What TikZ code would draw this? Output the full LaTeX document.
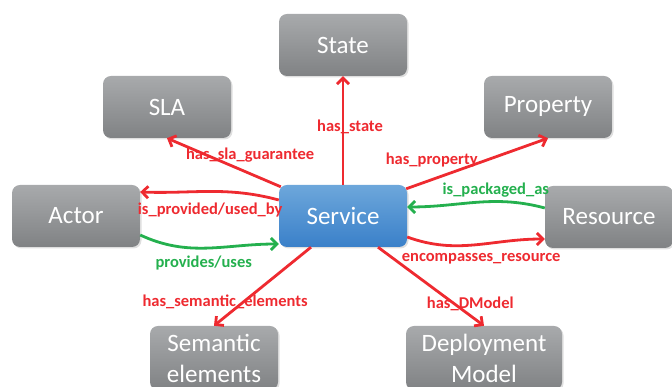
\documentclass[tikz,border=0pt]{standalone}
\usepackage{fontspec}
\setmainfont{Carlito}
\usetikzlibrary{arrows.meta, shadows}
\definecolor{boxtop}{HTML}{A8AAAC}
\definecolor{boxbot}{HTML}{808284}
\definecolor{svctop}{HTML}{6DA7DB}
\definecolor{svcbot}{HTML}{3A80C9}
\definecolor{relred}{HTML}{EE2A30}
\definecolor{relgreen}{HTML}{24B04E}

\begin{document}
\begin{tikzpicture}[x=1pt, y=1pt, >={Straight Barb[length=6pt,width=12pt]},
  ent/.style={rectangle, rounded corners=8pt, top color=boxtop, bottom color=boxbot,
    draw=none, text=white, minimum width=128pt, minimum height=62pt, align=center,
    font=\fontsize{25}{31}\selectfont,
    drop shadow={opacity=.25, shadow xshift=1.5pt, shadow yshift=-1.5pt}},
  core/.style={ent, top color=svctop, bottom color=svcbot},
  rel/.style={->, line width=2.8pt, color=relred},
  inv/.style={->, line width=2.8pt, color=relgreen},
  lbl/.style={font=\fontsize{16.5}{19}\selectfont\bfseries, inner sep=0pt}]
\useasboundingbox (0,0) rectangle (672,387);
\node[ent] (st) at (343,342) {State};
\node[ent] (sla) at (167,280) {SLA};
\node[ent] (prop) at (548,280) {Property};
\node[ent] (act) at (76,171) {Actor};
\node[core] (svc) at (343,171) {Service};
\node[ent] (res) at (609,170) {Resource};
\node[ent, minimum height=64pt] (sem) at (214,29) {Semantic\\elements};
\node[ent, minimum width=156pt, minimum height=64pt] (dep) at (484,29) {Deployment\\Model};

\draw[rel] (svc.north) -- (st.south) node[lbl, pos=.53, xshift=7pt] {has\_state};
\draw[rel] ([shift={(2pt,-2pt)}]svc.north west) -- (sla.south)
  node[lbl, pos=.27, yshift=19pt] {has\_sla\_guarantee};
\draw[rel] ([shift={(-1pt,-4pt)}]svc.north east) -- (prop.south)
  node[lbl, pos=.18, yshift=20pt] {has\_property};
\draw[rel] ([yshift=16pt]svc.west) to[out=165, in=-2]
  node[lbl, pos=.5, yshift=-19pt] {is\_provided/used\_by} ([yshift=24pt]act.east);
\draw[inv] ([yshift=-19pt]act.east) to[out=-25, in=180]
  node[lbl, pos=.47, yshift=-15pt] {provides/uses} ([yshift=-28pt]svc.west);
\draw[inv] ([yshift=9pt]res.west) to[out=165, in=0]
  node[lbl, pos=.35, yshift=11pt] {is\_packaged\_as} ([yshift=9pt]svc.east);
\draw[rel] ([yshift=-21pt]svc.east) to[out=-20, in=180]
  node[lbl, pos=.55, yshift=-14pt] {encompasses\_resource} ([yshift=-22pt]res.west);
\draw[rel] ([xshift=-32pt]svc.south) -- (sem.north)
  node[lbl, pos=.70, xshift=-18pt] {has\_semantic\_elements};
\draw[rel] ([xshift=35pt]svc.south) -- (dep.north)
  node[lbl, pos=.72, xshift=16pt] {has\_DModel};
\end{tikzpicture}
\end{document}
